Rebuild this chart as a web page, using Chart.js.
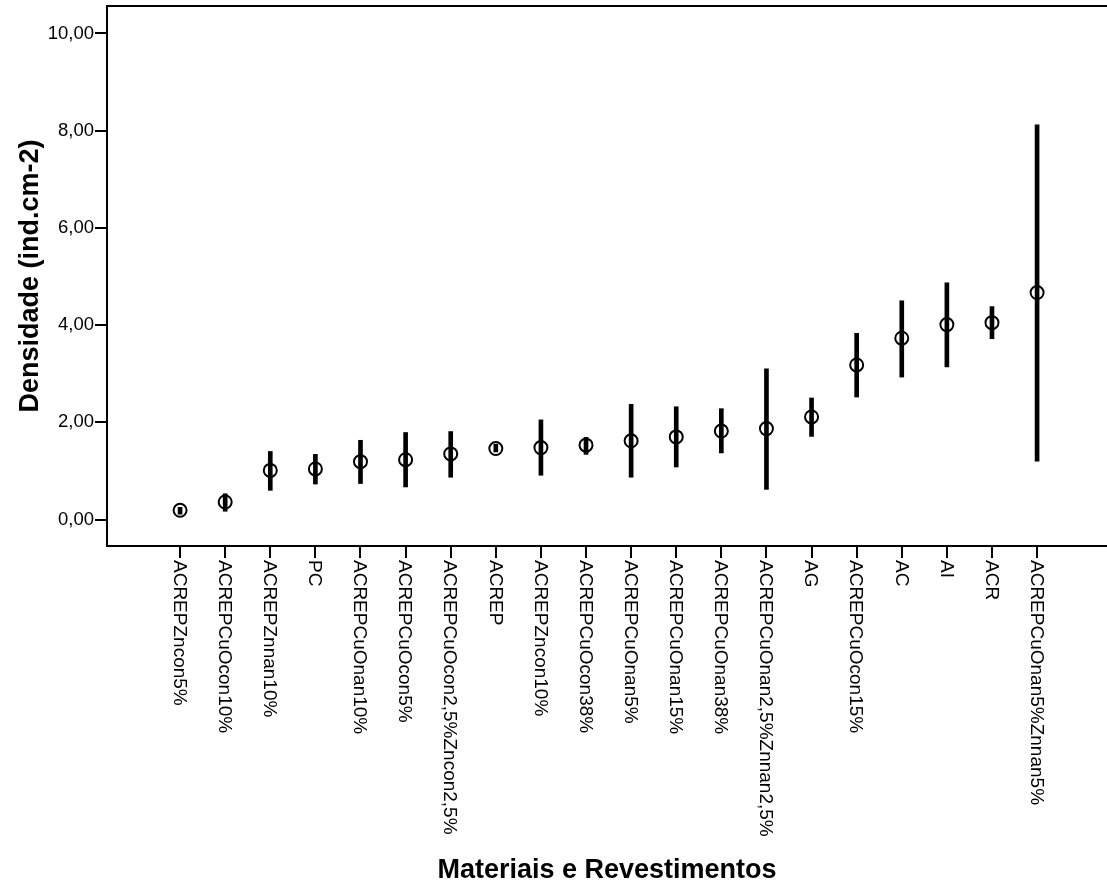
<!DOCTYPE html>
<html>
<head>
<meta charset="utf-8">
<script src="https://cdn.jsdelivr.net/npm/chart.js@4/dist/chart.umd.min.js"></script>
<style>
  html,body{margin:0;padding:0;background:#fff;}
  #wrap{width:1107px;height:887px;position:relative;}
</style>
</head>
<body>
<div id="wrap"><canvas id="c"></canvas></div>
<script>
// categorias (orden del eje X) y valores
const categories=['ACREPZncon5%','ACREPCuOcon10%','ACREPZnnan10%','PC','ACREPCuOnan10%','ACREPCuOcon5%',
  'ACREPCuOcon2,5%Zncon2,5%','ACREP','ACREPZncon10%','ACREPCuOcon38%','ACREPCuOnan5%','ACREPCuOnan15%',
  'ACREPCuOnan38%','ACREPCuOnan2,5%Znnan2,5%','AG','ACREPCuOcon15%','AC','AI','ACR','ACREPCuOnan5%Znnan5%'];
const means=[0.19,0.36,1.01,1.04,1.19,1.23,1.35,1.46,1.48,1.53,1.62,1.70,1.82,1.87,2.11,3.18,3.73,4.01,4.05,4.67];
const lower=[0.11,0.17,0.60,0.73,0.74,0.67,0.87,1.39,0.91,1.34,0.87,1.08,1.37,0.62,1.71,2.52,2.93,3.14,3.72,1.20];
const upper=[0.25,0.53,1.40,1.34,1.63,1.79,1.81,1.55,2.05,1.69,2.37,2.32,2.28,3.10,2.50,3.83,4.50,4.87,4.38,8.12];
const yTicks=[0,2,4,6,8,10];

const FONT='"Liberation Sans", Arial, sans-serif';
const fmt=v=>v.toFixed(2).replace('.',',');

// línea superior del marco + etiquetas del eje X rotadas 90° (se leen de arriba hacia abajo)
const framePlugin={
  id:'frame',
  afterDraw(chart){
    const {ctx,chartArea:a}=chart;
    const xs=chart.scales.x;
    ctx.save();
    ctx.strokeStyle='#000';ctx.lineWidth=2;
    ctx.beginPath();ctx.moveTo(a.left-1,a.top);ctx.lineTo(a.right,a.top);ctx.stroke();
    ctx.fillStyle='#000';ctx.font='19px '+FONT;
    ctx.textAlign='left';ctx.textBaseline='middle';
    categories.forEach((c,i)=>{
      const x=xs.getPixelForValue(i);
      ctx.save();
      ctx.translate(x-1,a.bottom+14);
      ctx.rotate(Math.PI/2);
      ctx.fillText(c,0,0);
      ctx.restore();
    });
    ctx.restore();
  }
};

new Chart(document.getElementById('c').getContext('2d'),{
  type:'bar',
  data:{datasets:[
    {type:'scatter',data:means.map((m,i)=>({x:i,y:m})),pointStyle:'circle',pointRadius:6.5,pointHoverRadius:6.5,
     pointBorderWidth:2,borderColor:'#000',pointBackgroundColor:'rgba(0,0,0,0)',order:0},
    {type:'bar',data:lower.map((l,i)=>({x:i,y:[l,upper[i]]})),backgroundColor:'#000',borderWidth:0,
     barThickness:4,order:1}
  ]},
  options:{responsive:true,maintainAspectRatio:false,animation:false,
    layout:{autoPadding:false,padding:{top:6,right:0,left:0,bottom:0}},
    plugins:{legend:{display:false},tooltip:{enabled:false}},
    scales:{
      x:{type:'linear',min:-1.62,max:20.55,offset:false,
        afterBuildTicks:s=>{s.ticks=categories.map((c,i)=>({value:i}));},
        afterFit:s=>{s.height=341;s.paddingLeft=0;s.paddingRight=0;},
        grid:{drawOnChartArea:false,drawTicks:true,offset:false,tickLength:12,color:'#000',lineWidth:2},
        border:{color:'#000',width:2},
        ticks:{display:false},
        title:{display:true,text:'Materiais e Revestimentos',color:'#000',
          font:{family:FONT,size:27,weight:'bold'},padding:{top:0,bottom:0}}},
      y:{min:-0.545,max:10.565,
        afterBuildTicks:s=>{s.ticks=yTicks.map(v=>({value:v}));},
        afterFit:s=>{s.width=107;s.paddingTop=0;s.paddingBottom=0;},
        grid:{drawOnChartArea:false,drawTicks:true,tickLength:12,color:'#000',lineWidth:2},
        border:{color:'#000',width:2},
        ticks:{color:'#000',padding:1,font:{family:FONT,size:18.5},callback:v=>fmt(v)},
        title:{display:true,text:'Densidade (ind.cm-2)',color:'#000',
          font:{family:FONT,size:27,weight:'bold'},padding:{top:14,bottom:0}}}
    }
  },
  plugins:[framePlugin]
});
</script>
</body>
</html>
